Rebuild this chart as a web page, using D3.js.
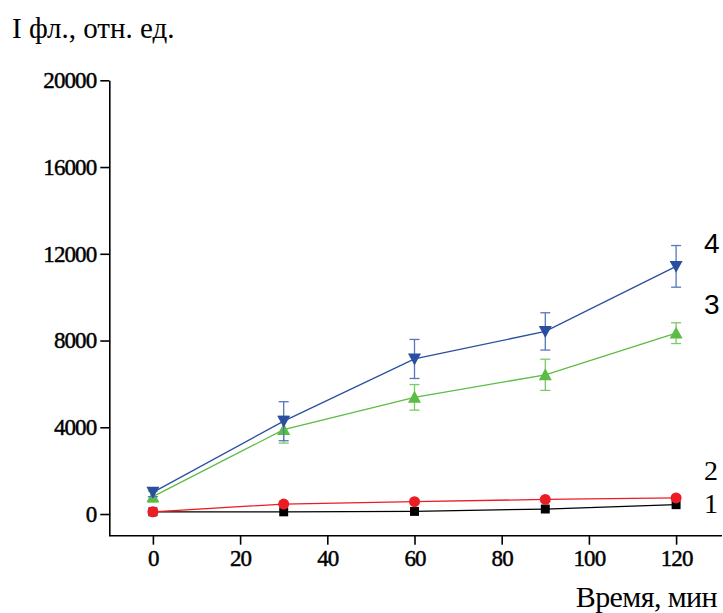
<!DOCTYPE html>
<html>
<head>
<meta charset="utf-8">
<script src="https://cdn.jsdelivr.net/npm/d3@7"></script>
<style>
  body { margin: 0; background: #fff; }
  svg { display: block; }
</style>
</head>
<body>
<div id="chart"></div>
<script>
// time points, min
const times = [0, 30, 60, 90, 120];

// series values (I fl., rel. units)
const s1 = [100, 100, 120, 230, 430];
const s2 = [100, 460, 570, 675, 740];
const s3 = [800, 3890, 5380, 6420, 8340];
const s4 = [1000, 4280, 7150, 8420, 11420];

// error bars
const e3 = [250, 620, 590, 720, 480];
const e4 = [200, 900, 900, 860, 960];

const yTicks = [0, 4000, 8000, 12000, 16000, 20000];
const xTicks = [0, 20, 40, 60, 80, 100, 120];

const W = 723, H = 613;
const serif = "'Liberation Serif', 'Times New Roman', serif";
const sans = "'Liberation Sans', 'Open Sans', sans-serif";

const svg = d3.select("#chart").append("svg").attr("width", W).attr("height", H);

const x = d3.scaleLinear().domain([-10, 130]).range([109.3, 719.7]);
const y = d3.scaleLinear().domain([-1000, 20000]).range([535.7, 80.3]);

const styleAxis = g => {
  g.select(".domain").attr("stroke-width", 1.6);
  g.selectAll(".tick line").attr("stroke-width", 1.6);
  g.selectAll(".tick text")
   .style("font-family", serif).style("font-size", "23px")
   .style("fill", "#000").style("stroke", "#000").style("stroke-width", "0.45px")
   .style("letter-spacing", "-0.9px");
};

// axes
svg.append("g")
   .attr("transform", `translate(0,${y(-1000)})`)
   .call(d3.axisBottom(x).tickValues(xTicks).tickFormat(d3.format("d"))
           .tickSize(9).tickPadding(5).tickSizeOuter(0))
   .call(styleAxis)
   .call(g => g.select(".domain").attr("d", `M${x(-10)},0H722`));

svg.append("g")
   .attr("transform", `translate(${x(-10)},0)`)
   .call(d3.axisLeft(y).tickValues(yTicks).tickFormat(d3.format("d"))
           .tickSize(9).tickPadding(4).tickSizeOuter(0))
   .call(styleAxis);

const line = d3.line().x((d, i) => x(times[i])).y(d => y(d));

const drawSeries = (vals, errs, color, errColor, symbol) => {
  const g = svg.append("g");
  if (errs) {
    const eb = g.selectAll(".err").data(vals).enter().append("g")
                .attr("stroke", errColor).attr("stroke-width", 1.3).attr("fill", "none");
    eb.append("line")
      .attr("x1", (d, i) => x(times[i])).attr("x2", (d, i) => x(times[i]))
      .attr("y1", (d, i) => y(d - errs[i])).attr("y2", (d, i) => y(d + errs[i]));
    eb.append("line")
      .attr("x1", (d, i) => x(times[i]) - 5).attr("x2", (d, i) => x(times[i]) + 5)
      .attr("y1", (d, i) => y(d + errs[i])).attr("y2", (d, i) => y(d + errs[i]));
    eb.append("line")
      .attr("x1", (d, i) => x(times[i]) - 5).attr("x2", (d, i) => x(times[i]) + 5)
      .attr("y1", (d, i) => y(d - errs[i])).attr("y2", (d, i) => y(d - errs[i]));
  }
  g.append("path").datum(vals)
   .attr("d", line).attr("fill", "none").attr("stroke", color).attr("stroke-width", 1.3);
  g.selectAll(".pt").data(vals).enter().append("path")
   .attr("transform", (d, i) => `translate(${x(times[i])},${y(d)})`)
   .attr("d", symbol)
   .attr("fill", color);
};

const triDown = s => `M${-s/2},${-s*0.42}L${s/2},${-s*0.42}L0,${s*0.5}Z`;
const triUp = s => `M${-s/2},${s*0.42}L${s/2},${s*0.42}L0,${-s*0.5}Z`;

drawSeries(s1, null, "#000000", null, d3.symbol().type(d3.symbolSquare).size(80)());
drawSeries(s2, null, "#ec1c24", null, d3.symbol().type(d3.symbolCircle).size(95)());
drawSeries(s3, e3, "#5bbd45", "#7acb67", triUp(13));
drawSeries(s4, e4, "#2a4fa0", "#5676bd", triDown(13));

// series labels, placed relative to the last point of each series
const labels = [
  { t: "4", v: s4[4], off: -13, font: sans },
  { t: "3", v: s3[4], off: -19, font: sans },
  { t: "2", v: s2[4], off: -18, font: serif },
  { t: "1", v: s1[4], off: 8, font: serif }
];
svg.selectAll(".lab").data(labels).enter().append("text")
   .attr("x", 704)
   .attr("y", d => y(d.v) + d.off)
   .attr("font-family", d => d.font)
   .attr("font-size", 28)
   .text(d => d.t);

// axis titles
svg.append("text").attr("x", 12).attr("y", 38)
   .attr("font-family", serif).attr("font-size", 29)
   .text("I фл., отн. ед.");

svg.append("text").attr("x", 717).attr("y", 607).attr("text-anchor", "end")
   .attr("font-family", serif).attr("font-size", 30)
   .attr("letter-spacing", "-0.6px")
   .text("Время, мин");
</script>
</body>
</html>
